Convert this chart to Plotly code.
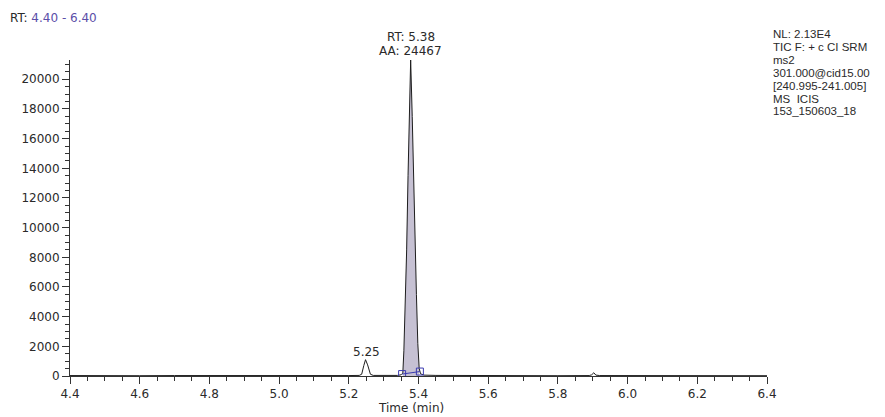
import plotly.graph_objects as go

# ---- data ----
time_min = [4.40, 4.45, 4.52, 4.60, 4.70, 4.80, 4.90, 5.00, 5.10, 5.20,
            5.230, 5.237, 5.243, 5.248, 5.254, 5.262, 5.270, 5.30, 5.340, 5.350,
            5.355, 5.358, 5.362, 5.366, 5.370, 5.374, 5.3775, 5.382, 5.386, 5.390,
            5.394, 5.398, 5.402, 5.406, 5.415, 5.45, 5.50, 5.60, 5.70, 5.80,
            5.890, 5.897, 5.903, 5.909, 5.92, 6.00, 6.10, 6.20, 6.30, 6.40]
intensity = [30, 20, 40, 20, 30, 20, 30, 20, 30, 30,
             40, 120, 700, 1100, 750, 120, 40, 30, 40, 80,
             200, 1700, 5000, 8500, 13500, 18200, 21300, 17500, 13000, 9200,
             5500, 2200, 500, 150, 60, 40, 30, 20, 30, 20,
             30, 80, 220, 60, 30, 20, 30, 20, 30, 20]

peak_start, peak_end = 5.353, 5.404
baseline_time = [5.353, 5.404]
baseline_int = [130, 300]

x_ticks = [4.4, 4.6, 4.8, 5.0, 5.2, 5.4, 5.6, 5.8, 6.0, 6.2, 6.4]
y_ticks = [0, 2000, 4000, 6000, 8000, 10000, 12000, 14000, 16000, 18000, 20000]

range_label = "4.40 - 6.40"
peak_rt = "RT: 5.38"
peak_area = "AA: 24467"
small_peak_label = "5.25"
small_peak_rt = 5.25
info_lines = ["NL: 2.13E4", "TIC F: + c CI SRM", "ms2", "301.000@cid15.00",
              "[240.995-241.005]", "MS  ICIS", "153_150603_18"]
y_max = 21300

# ---- figure ----
W, H = 885, 417
ML, MR, MT, MB = 70, 118, 60, 41
PW, PH = W - ML - MR, H - MT - MB
FONT = "DejaVu Sans, Arial, sans-serif"
TXT = "#2a2a2a"

def px_x(px):
    return (px - ML) / PW

def px_y(py):
    return (H - MB - py) / PH

fig = go.Figure()

# shaded integrated peak area
fill_t = [t for t in time_min if peak_start <= t <= peak_end]
fill_i = [v for t, v in zip(time_min, intensity) if peak_start <= t <= peak_end]
fig.add_trace(go.Scatter(x=fill_t, y=fill_i, mode="lines", fill="tozeroy",
                         fillcolor="#c6c1d3", line=dict(width=0),
                         hoverinfo="skip", showlegend=False))

# chromatogram trace
fig.add_trace(go.Scatter(x=time_min, y=intensity, mode="lines",
                         line=dict(color="#1e1e1e", width=1),
                         showlegend=False))

# integration baseline with markers
fig.add_trace(go.Scatter(x=baseline_time, y=baseline_int, mode="lines+markers",
                         line=dict(color="#3b3bb0", width=1),
                         marker=dict(symbol="square-open", size=7,
                                     color="#3b3bb0", line=dict(width=1)),
                         showlegend=False))

axis_common = dict(showline=True, linecolor="#333", linewidth=1,
                   ticks="outside", tickcolor="#333", ticklen=7, tickwidth=1,
                   showgrid=False, zeroline=False, automargin=False,
                   tickfont=dict(family=FONT, size=12, color=TXT))

fig.update_xaxes(range=[4.4, 6.4], tickvals=x_ticks,
                 ticktext=[f"{v:.1f}" for v in x_ticks],
                 minor=dict(dtick=0.05, tick0=4.4, ticklen=4, ticks="outside",
                            tickcolor="#333", showgrid=False),
                 **axis_common)
fig.update_yaxes(range=[0, y_max], tickvals=y_ticks,
                 ticktext=[str(v) for v in y_ticks],
                 minor=dict(dtick=500, tick0=0, ticklen=4, ticks="outside",
                            tickcolor="#333", showgrid=False),
                 **axis_common)

ann = []
ann.append(dict(x=px_x(8), y=px_y(18), xref="paper", yref="paper",
                xanchor="left", yanchor="middle", showarrow=False,
                text=f"RT: <span style='color:#5b4ea8'>{range_label}</span>",
                font=dict(family=FONT, size=12, color=TXT)))
ann.append(dict(x=5.3775, y=px_y(37), xref="x", yref="paper",
                xanchor="center", yanchor="middle", showarrow=False,
                text=peak_rt, font=dict(family=FONT, size=12, color=TXT)))
ann.append(dict(x=5.3775, y=px_y(51), xref="x", yref="paper",
                xanchor="center", yanchor="middle", showarrow=False,
                text=peak_area, font=dict(family=FONT, size=12, color=TXT)))
ann.append(dict(x=small_peak_rt, y=px_y(352), xref="x", yref="paper",
                xanchor="center", yanchor="middle", showarrow=False,
                text=small_peak_label, font=dict(family=FONT, size=12, color=TXT)))
ann.append(dict(x=px_x(411), y=px_y(408), xref="paper", yref="paper",
                xanchor="center", yanchor="middle", showarrow=False,
                text="Time (min)", font=dict(family=FONT, size=12, color=TXT)))
for k, txt in enumerate(info_lines):
    ann.append(dict(x=px_x(771), y=px_y(34 + 12.9 * k), xref="paper", yref="paper",
                    xanchor="left", yanchor="middle", showarrow=False,
                    text=txt,
                    font=dict(family="Liberation Sans, Arial, sans-serif",
                              size=11.5, color=TXT)))

fig.update_layout(width=W, height=H,
                  margin=dict(l=ML, r=MR, t=MT, b=MB, pad=0),
                  paper_bgcolor="white", plot_bgcolor="white",
                  annotations=ann, showlegend=False)

fig.write_html("out.html", config={"displayModeBar": False},
               post_script="document.body.style.margin='0';document.body.style.overflow='hidden';")
